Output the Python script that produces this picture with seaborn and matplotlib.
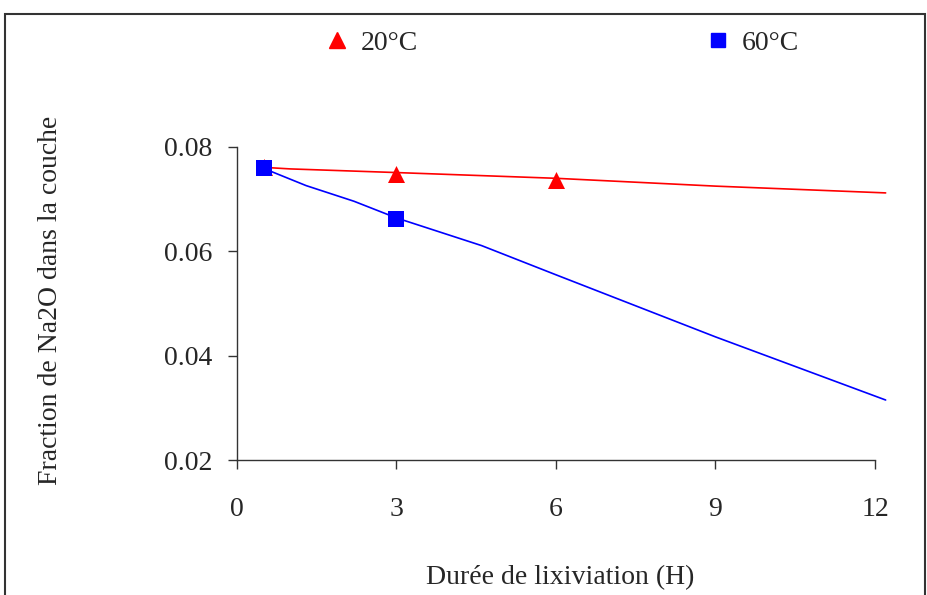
import matplotlib
matplotlib.use("Agg")
import matplotlib.pyplot as plt
import seaborn as sns
import pandas as pd
from matplotlib.patches import Rectangle
from matplotlib.lines import Line2D

# Measured points
t20_pts = [0.5, 3, 6]
y20_pts = [0.0762, 0.0749, 0.0737]
t60_pts = [0.5, 3]
y60_pts = [0.0760, 0.0662]

# Fitted curves
t20_line = [0.5, 1.0, 3.0, 6.0, 9.0, 12.2]
y20_line = [0.0761, 0.0758, 0.0751, 0.0740, 0.0725, 0.0712]
t60_line = [0.5, 1.3, 2.2, 3.0, 4.6, 6.0, 9.0, 12.2]
y60_line = [0.0759, 0.0726, 0.0696, 0.0664, 0.0611, 0.0555, 0.0436, 0.0315]

sns.set_style("ticks")
plt.rcParams['font.family'] = ['Liberation Serif', 'DejaVu Serif']

FS = 20

fig = plt.figure(figsize=(9.28, 5.95), dpi=100)
ax = fig.add_axes([237/928, 1-460/595, (875-237)/928, (460-147)/595])

df20 = pd.DataFrame({"t": t20_line, "y": y20_line})
df60 = pd.DataFrame({"t": t60_line, "y": y60_line})
sns.lineplot(data=df20, x="t", y="y", ax=ax, color="#ff0000", lw=1.2, clip_on=False)
sns.lineplot(data=df60, x="t", y="y", ax=ax, color="#0000ff", lw=1.2, clip_on=False)
sns.scatterplot(x=t20_pts, y=y20_pts, ax=ax, marker="^", color="#ff0000", s=150,
                edgecolor="#ff0000", linewidth=0, zorder=5, clip_on=False)
sns.scatterplot(x=t60_pts, y=y60_pts, ax=ax, marker="s", color="#0000ff", s=130,
                edgecolor="#0000ff", linewidth=0, zorder=6, clip_on=False)

ax.set_xlim(0, 12)
ax.set_ylim(0.02, 0.08)
ax.set_xticks([0, 3, 6, 9, 12])
ax.set_yticks([0.02, 0.04, 0.06, 0.08])
ax.set_yticklabels(["0.02", "0.04", "0.06", "0.08"])
ax.tick_params(axis='both', direction='out', length=6.5, width=1, color='#333333',
               labelsize=FS)
ax.tick_params(axis='x', pad=20)
ax.tick_params(axis='y', pad=11)
for s in ['top', 'right']:
    ax.spines[s].set_visible(False)
for s in ['left', 'bottom']:
    ax.spines[s].set_color('#333333')
    ax.spines[s].set_linewidth(1)
ax.set_xlabel("")
ax.set_ylabel("")

fig.text(560/928, 1-578/595, "Durée de lixiviation (H)", ha='center', va='center', fontsize=FS)
fig.text(51/928, 1-300/595, "Fraction de Na2O dans la couche", ha='center', va='center',
         rotation=90, fontsize=FS)

handles = [Line2D([], [], marker="^", color="#ff0000", ls="none", markersize=12),
           Line2D([], [], marker="s", color="#0000ff", ls="none", markersize=10.5)]
fig.legend(handles, ["20°C", "60°C"], ncol=2, frameon=False, fontsize=FS,
           loc='center left', bbox_to_anchor=(323/928, 1-43/595),
           columnspacing=10.3, handlelength=1.0, handletextpad=0.36, borderaxespad=0,
           borderpad=0)

fig.add_artist(Rectangle((5/928, -0.05), (925-5)/928, 1-14/595+0.05, transform=fig.transFigure,
                         fill=False, edgecolor='#333333', lw=1.5))

fig.savefig("out.png", dpi=100)
